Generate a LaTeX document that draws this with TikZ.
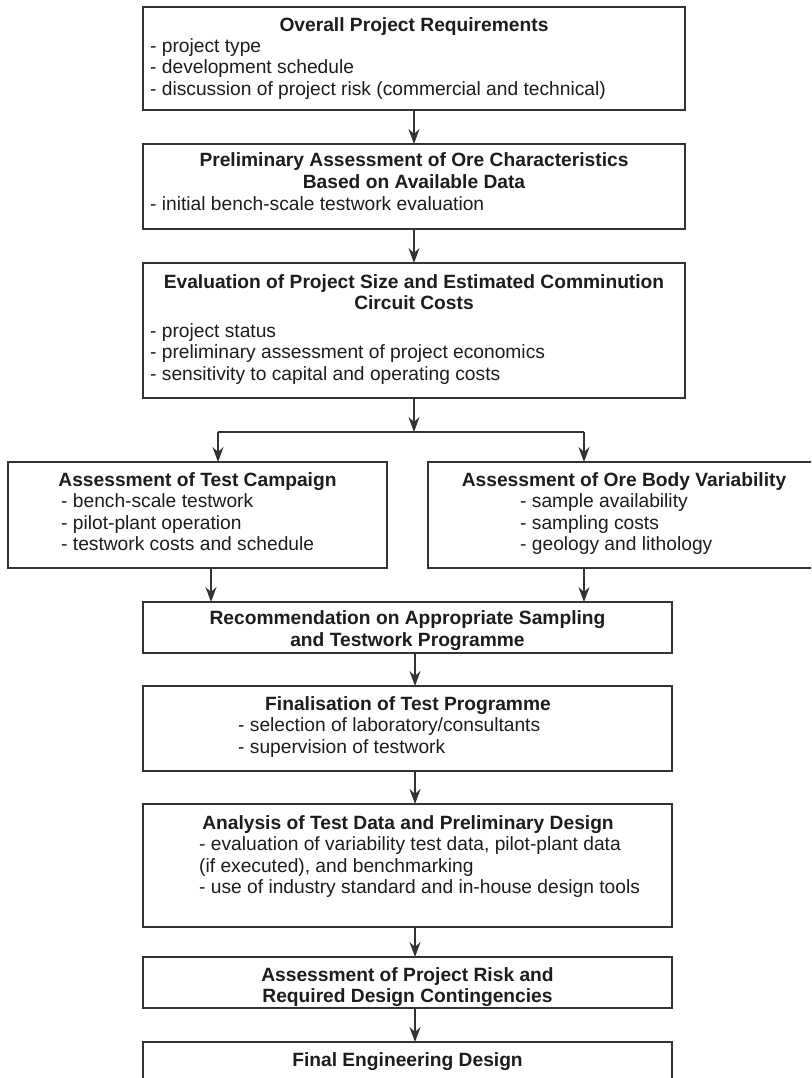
\documentclass[tikz,border=0pt]{standalone}
\usepackage{fontspec}
\setmainfont{Liberation Sans}
\usetikzlibrary{arrows.meta}
\definecolor{linecol}{HTML}{333333}
\definecolor{inkcol}{HTML}{1E1C1D}
\newcommand\fs{\fontsize{19.2}{21.5}\selectfont}
\newcommand\ttlrows[1]{\begin{tabular}[t]{@{}c@{}}#1\end{tabular}}
\newcommand\itmrows[1]{\begin{tabular}[t]{@{}l@{}}#1\end{tabular}}
\begin{document}
\begin{tikzpicture}[x=1pt,y=-1pt,
  box/.style={draw=linecol, line width=1.5pt, rectangle, inner sep=0pt, outer sep=0pt, fill=white},
  ttl/.style={anchor=base, inner sep=0pt, text=inkcol, font=\fs\bfseries},
  itm/.style={anchor=base west, inner sep=0pt, text=inkcol, font=\fs},
  link/.style={draw=linecol, line width=1.2pt},
  arr/.style={link, -{Stealth[length=15pt, width=11pt, inset=5pt]}}]
\useasboundingbox (0,0) rectangle (811,1078);
\fill[white] (0,0) rectangle (811,1078);
\begin{scope}
\clip (0,0) rectangle (811,1078);

% boxes
\node[box, minimum width=542pt, minimum height=103pt] (b1) at (414,58.5) {};
\node[box, minimum width=542pt, minimum height=85pt]  (b2) at (414,186.5) {};
\node[box, minimum width=542pt, minimum height=135pt] (b3) at (414,330.5) {};
\node[box, minimum width=379pt, minimum height=106pt] (bl) at (197.5,515) {};
\node[box, minimum width=392pt, minimum height=106pt] (br) at (624,515) {};
\node[box, minimum width=529pt, minimum height=51pt]  (b4) at (407.5,627.5) {};
\node[box, minimum width=529pt, minimum height=85pt]  (b5) at (407.5,728.5) {};
\node[box, minimum width=529pt, minimum height=123pt] (b6) at (407.5,865.5) {};
\node[box, minimum width=529pt, minimum height=51pt]  (b7) at (407.5,982.5) {};
\node[box, minimum width=529pt, minimum height=58pt]  (b8) at (407.5,1071) {};

% texts
\node[ttl] (t1) at (414,32) {\ttlrows{Overall Project Requirements}};
\node[itm] (i1) at (150,52.5) {\itmrows{- project type\\- development schedule\\- discussion of project risk (commercial and technical)}};

\node[ttl] (t2) at (414,167) {\ttlrows{Preliminary Assessment of Ore Characteristics\\Based on Available Data}};
\node[itm] (i2) at (150,210) {\itmrows{- initial bench-scale testwork evaluation}};

\node[ttl] (t3) at (414,288) {\ttlrows{Evaluation of Project Size and Estimated Comminution\\Circuit Costs}};
\node[itm] (i3) at (150,337) {\itmrows{- project status\\- preliminary assessment of project economics\\- sensitivity to capital and operating costs}};

\node[ttl] (tl) at (197.5,486) {\ttlrows{Assessment of Test Campaign}};
\node[itm] (il) at (61,507.5) {\itmrows{- bench-scale testwork\\- pilot-plant operation\\- testwork costs and schedule}};

\node[ttl] (tr) at (624,486) {\ttlrows{Assessment of Ore Body Variability}};
\node[itm] (ir) at (520,507.5) {\itmrows{- sample availability\\- sampling costs\\- geology and lithology}};

\node[ttl] (t4) at (407.5,624.5) {\ttlrows{Recommendation on Appropriate Sampling\\and Testwork Programme}};

\node[ttl] (t5) at (408,710) {\ttlrows{Finalisation of Test Programme}};
\node[itm] (i5) at (238,731.5) {\itmrows{- selection of laboratory/consultants\\- supervision of testwork}};

\node[ttl] (t6) at (408,829) {\ttlrows{Analysis of Test Data and Preliminary Design}};
\node[itm] (i6) at (199,850.5) {\itmrows{- evaluation of variability test data, pilot-plant data\\(if executed), and benchmarking\\- use of industry standard and in-house design tools}};

\node[ttl] (t7) at (407.5,981) {\ttlrows{Assessment of Project Risk and\\Required Design Contingencies}};

\node[ttl] (t8) at (407.5,1066) {\ttlrows{Final Engineering Design}};

% connectors
\coordinate (jl) at (218,432);
\coordinate (jr) at (584,432);
\draw[arr] (b1.south) -- (b2.north);
\draw[arr] (b2.south) -- (b3.north);
\draw[arr] (b3.south) -- (b3.south |- jl);
\draw[link] (jl) -- (jr);
\draw[arr] (jl) -- (jl |- bl.north);
\draw[arr] (jr) -- (jr |- br.north);
\draw[arr] ([xshift=13.5pt]bl.south) coordinate (dl) -- (dl |- b4.north);
\draw[arr] ([xshift=-40pt]br.south) coordinate (dr) -- (dr |- b4.north);
\draw[arr] ([xshift=7.5pt]b4.south) -- ([xshift=7.5pt]b5.north);
\draw[arr] ([xshift=7.5pt]b5.south) -- ([xshift=7.5pt]b6.north);
\draw[arr] ([xshift=7.5pt]b6.south) -- ([xshift=7.5pt]b7.north);
\draw[arr] ([xshift=7.5pt]b7.south) -- ([xshift=7.5pt]b8.north);
\end{scope}
\end{tikzpicture}
\end{document}
